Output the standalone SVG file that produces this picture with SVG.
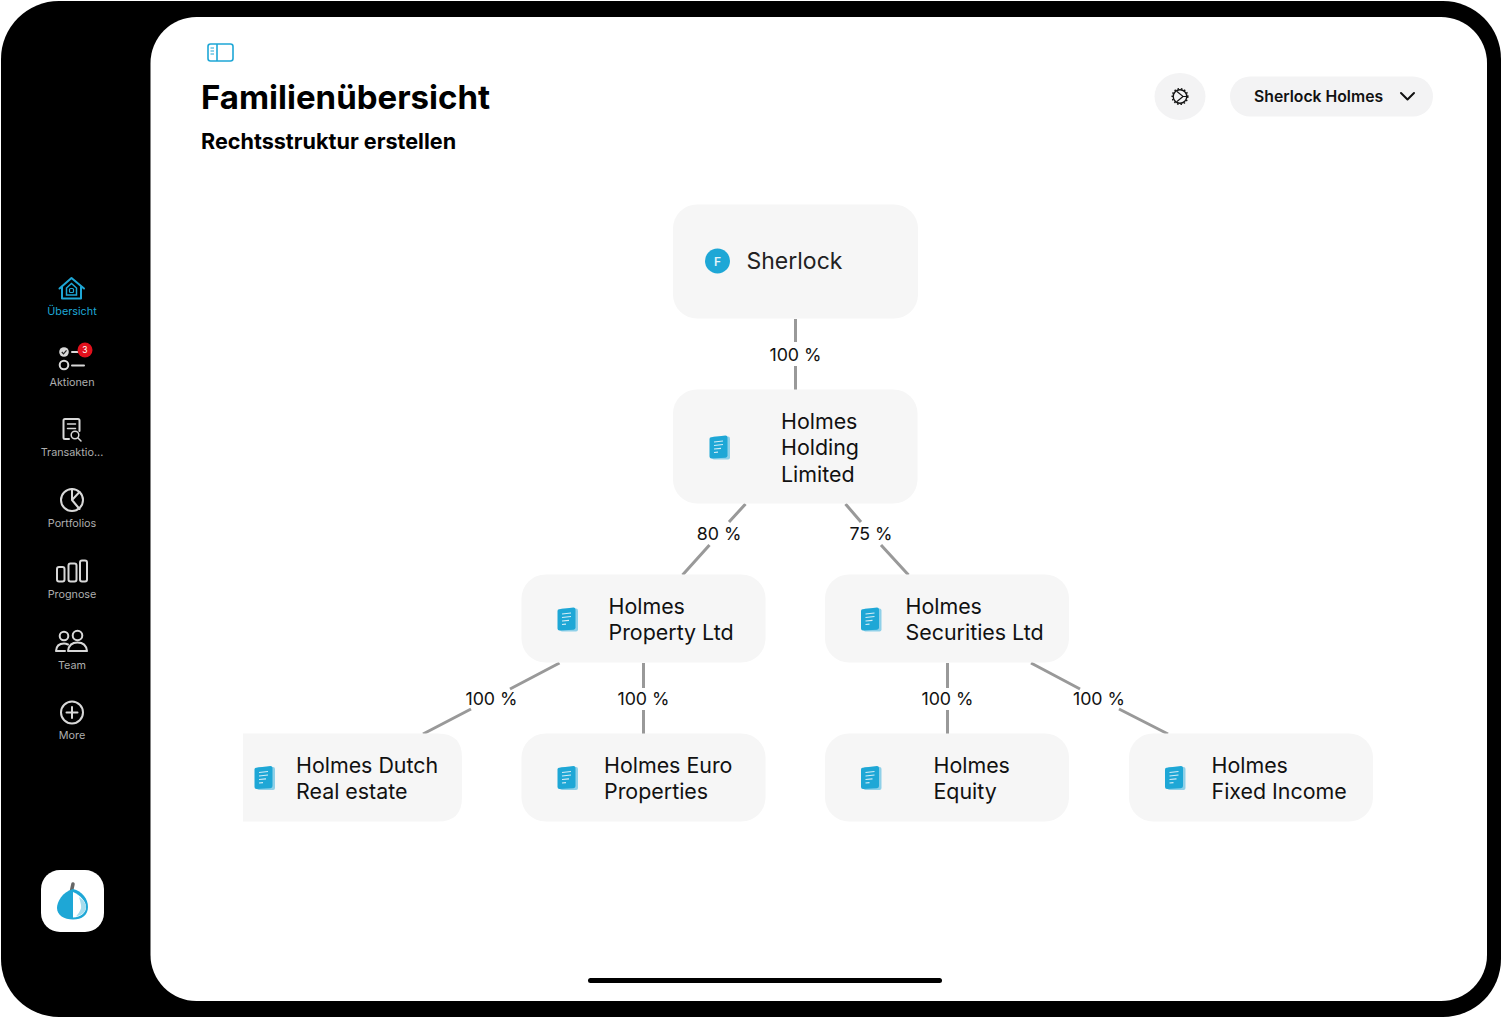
<svg xmlns="http://www.w3.org/2000/svg" width="1502" height="1018" viewBox="0 0 1502 1018">
<style>
text{font-family:Inter,"Liberation Sans",sans-serif;fill:#111}
.nav{font-size:10.800px;fill:#aeaeae;text-anchor:middle}
.ic{fill:none;stroke:#d8d8d8;stroke-width:2;stroke-linecap:round;stroke-linejoin:round}
.box{fill:#f6f6f6}
.nm{font-size:21.400px}
.pc{font-size:17.800px;text-anchor:middle}
.ln{stroke:#999;stroke-width:3;fill:none}
</style>
<defs>
<g id="doc">
<rect x="2.500" y="1" width="18" height="23" rx="2" fill="#8fd0e8"/>
<path d="M0 3.500Q0 2 1.500 1.800L16 0Q18 0 18 2V20Q18 22 16 22.200L2 23Q0 23 0 21Z" fill="#1ea7d6"/>
<path d="M4.500 6.500L13.500 5.500M4.500 10L13.500 9M4.500 13.500L11.500 12.800M4.500 17L8.500 16.600" stroke="#d5eef7" stroke-width="1.200" fill="none"/>
</g>
</defs>
<rect x="1" y="1" width="1500" height="1016" rx="58" fill="#000"/>
<rect x="150.500" y="17" width="1336.500" height="984" rx="46" fill="#fff"/>

<g id="sidebar">
<g id="nav-uebersicht">
<path d="M59.500 288.500L71.500 278L84 288.500M62 287V298.500H81V287" fill="none" stroke="#1ea7d6" stroke-width="2" stroke-linejoin="round" stroke-linecap="round"/>
<path d="M66.500 288L71.500 283.500L76.500 288V295H66.500Z" fill="none" stroke="#1ea7d6" stroke-width="1.500"/>
<rect x="69.500" y="288.500" width="4" height="4" rx="1" fill="none" stroke="#1ea7d6" stroke-width="1.200"/>
<text x="72" y="315" class="nav" style="fill:#1ea7d6">Übersicht</text>
</g>
<g id="nav-aktionen">
<circle cx="64" cy="352" r="4.800" fill="#d8d8d8"/>
<path d="M61.800 352L63.500 353.800L66.500 350.300" fill="none" stroke="#222" stroke-width="1.200"/>
<circle cx="64" cy="365" r="4.300" class="ic"/>
<path d="M72 352H84M72 365.500H84" class="ic"/>
<circle cx="85" cy="350" r="7.500" fill="#e2101c"/>
<text x="85" y="353" style="font-size:8.500px;fill:#fff;text-anchor:middle">3</text>
<text x="72" y="386" class="nav">Aktionen</text>
</g>
<g id="nav-transaktionen">
<path d="M69 439H65Q63.500 439 63.500 437.500V420.500Q63.500 419 65 419H78Q79.500 419 79.500 420.500V431" class="ic"/>
<path d="M67.500 424H75.500M67.500 428.500H75.500" class="ic" style="stroke-width:1.500"/>
<circle cx="75" cy="435" r="3.800" class="ic" style="stroke-width:1.500"/>
<path d="M78 438L81 441" class="ic" style="stroke-width:1.500"/>
<text x="72" y="456" class="nav">Transaktio...</text>
</g>
<g id="nav-portfolios">
<circle cx="72" cy="500" r="11" class="ic"/>
<path d="M72 489V500L79.500 492M72 500L79.500 509" class="ic"/>
<text x="72" y="527" class="nav">Portfolios</text>
</g>
<g id="nav-prognose">
<rect x="57" y="567" width="7.500" height="14.500" rx="2" class="ic"/>
<rect x="68.500" y="563.500" width="8" height="18" rx="2" class="ic"/>
<rect x="80" y="560.500" width="7" height="21" rx="2" class="ic"/>
<text x="72" y="598" class="nav">Prognose</text>
</g>
<g id="nav-team">
<circle cx="64" cy="636" r="4.300" class="ic"/>
<circle cx="77.500" cy="635.500" r="4.800" class="ic"/>
<path d="M56 651Q56.500 643.500 64 643.500Q66 643.500 68 644.500M68 651Q69 642.500 77.500 642.500Q86 642.500 87 651Z M56 651H65" class="ic"/>
<text x="72" y="669" class="nav">Team</text>
</g>
<g id="nav-more">
<circle cx="72" cy="712.500" r="11" class="ic"/>
<path d="M72 707V718M66.500 712.500H77.500" class="ic"/>
<text x="72" y="739" class="nav">More</text>
</g>
<g id="app-logo">
<rect x="41" y="870" width="63" height="62" rx="19" fill="#fff"/>
<path d="M71 893L73 884" stroke="#666" stroke-width="3.500" fill="none" stroke-linecap="round"/>
<path d="M73 889C62 892 57 902 57 908C57 915 64 919.500 73 919.500C82 919.500 88 915 88 907C88 899 82 891 73 889Z" fill="#1ea7d6"/>
<path d="M73 892C80 895 86 901 86 907C86 913 81 917 73 917.500Z" fill="#fff"/>
<path d="M79 897Q86 902 86 907Q86 914 76 916.500Q82 910 81 905Q80 900 79 897Z" fill="#a4dcee"/>
</g>
</g>

<g id="header">
<g id="sidebar-toggle">
<rect x="208" y="44" width="25" height="17" rx="2.500" fill="none" stroke="#1ea7d6" stroke-width="1.600"/>
<path d="M217 44V61" stroke="#1ea7d6" stroke-width="1.600"/>
<path d="M210.500 48H214M210.500 51H214M210.500 54H214" stroke="#1ea7d6" stroke-width="1"/>
</g>
<text x="201" y="108.500" style="font-size:33px;font-weight:700;fill:#000">Familienübersicht</text>
<text x="201" y="148.500" style="font-size:21.600px;font-weight:700;fill:#000">Rechtsstruktur erstellen</text>
<g id="settings">
<ellipse cx="1180" cy="96.500" rx="25.500" ry="23.500" fill="#f3f3f4"/>
<circle cx="1180" cy="96.500" r="6.800" fill="none" stroke="#111" stroke-width="1.400"/>
<circle cx="1180" cy="96.500" r="7.800" fill="none" stroke="#111" stroke-width="1.500" stroke-dasharray="1.500 1.900"/>
<path d="M1177 91.500L1183 96.500H1187M1183 96.500L1177 101.500" fill="none" stroke="#111" stroke-width="1.100"/>
</g>
<g id="user-menu">
<rect x="1230" y="76.500" width="203" height="40" rx="20" fill="#f3f3f4"/>
<text x="1254" y="101.500" style="font-size:15.750px;font-weight:600">Sherlock Holmes</text>
<path d="M1401 93L1407.500 99.500L1414 93" fill="none" stroke="#111" stroke-width="2" stroke-linecap="round" stroke-linejoin="round"/>
</g>
</g>

<g id="connectors" class="ln">
<path d="M795.500 319V342M795.500 366V390"/>
<path d="M745.500 504L729 522M709.500 545L682.500 575"/>
<path d="M845.500 504L861 522M881 545L908.500 575"/>
<path d="M559.500 663L510 689M471 709L423 734"/>
<path d="M643.500 663V688M643.500 710V734"/>
<path d="M947.500 663V688M947.500 710V734"/>
<path d="M1031 663L1080 689M1119 709L1168 734"/>
</g>
<g id="connector-labels">
<text x="795.500" y="361" class="pc">100 %</text>
<text x="719" y="539.500" class="pc">80 %</text>
<text x="871" y="539.500" class="pc">75 %</text>
<text x="491.500" y="705" class="pc">100 %</text>
<text x="643.500" y="705" class="pc">100 %</text>
<text x="947.500" y="705" class="pc">100 %</text>
<text x="1099" y="705" class="pc">100 %</text>
</g>

<g id="node-sherlock">
<rect x="673" y="204.500" width="245" height="114" rx="24" class="box"/>
<circle cx="717.500" cy="261" r="12.500" fill="#1ea7d6"/>
<text x="717.500" y="266" style="font-size:12px;font-weight:600;fill:#e3f4fa;text-anchor:middle">F</text>
<text x="746.500" y="269" style="font-size:23px;fill:#222">Sherlock</text>
</g>
<g id="node-holding">
<rect x="673" y="389.500" width="244.500" height="114" rx="24" class="box"/>
<use href="#doc" x="709.500" y="435.500"/>
<text class="nm" x="781" y="428.500">Holmes</text>
<text class="nm" x="781" y="455">Holding</text>
<text class="nm" x="781" y="481.500">Limited</text>
</g>
<g id="node-property">
<rect x="521.500" y="574.500" width="244" height="88" rx="24" class="box"/>
<use href="#doc" x="557.500" y="607.500"/>
<text class="nm" x="608.500" y="614">Holmes</text>
<text class="nm" x="608.500" y="640">Property Ltd</text>
</g>
<g id="node-securities">
<rect x="825" y="574.500" width="244" height="88" rx="24" class="box"/>
<use href="#doc" x="861" y="607.500"/>
<text class="nm" x="905.500" y="614">Holmes</text>
<text class="nm" x="905.500" y="640">Securities Ltd</text>
</g>
<g id="node-dutch">
<path d="M243 733.500H438Q462 733.500 462 757.500V797.500Q462 821.500 438 821.500H243Z" class="box"/>
<use href="#doc" x="254.500" y="766"/>
<text class="nm" x="296" y="772.500">Holmes Dutch</text>
<text class="nm" x="296" y="799">Real estate</text>
</g>
<g id="node-euro">
<rect x="521.500" y="733.500" width="244" height="88" rx="24" class="box"/>
<use href="#doc" x="557.500" y="766"/>
<text class="nm" x="604" y="772.500">Holmes Euro</text>
<text class="nm" x="604" y="799">Properties</text>
</g>
<g id="node-equity">
<rect x="825" y="733.500" width="244" height="88" rx="24" class="box"/>
<use href="#doc" x="861" y="766"/>
<text class="nm" x="933.500" y="772.500">Holmes</text>
<text class="nm" x="933.500" y="799">Equity</text>
</g>
<g id="node-fixed">
<rect x="1129" y="733.500" width="244" height="88" rx="24" class="box"/>
<use href="#doc" x="1165" y="766"/>
<text class="nm" x="1211.500" y="772.500">Holmes</text>
<text class="nm" x="1211.500" y="799">Fixed Income</text>
</g>
<rect id="home-indicator" x="588" y="978" width="354" height="5" rx="2.500" fill="#000"/>
</svg>
